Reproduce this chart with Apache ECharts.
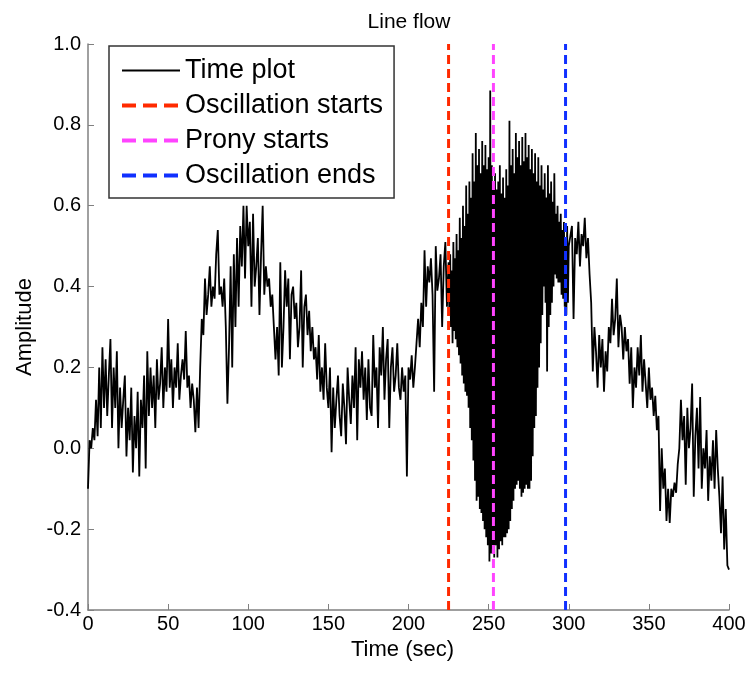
<!DOCTYPE html>
<html>
<head>
<meta charset="utf-8">
<script src="https://cdn.jsdelivr.net/npm/echarts@6/dist/echarts.min.js"></script>
<style>
  html, body { margin: 0; padding: 0; background: #fff; }
  #chart { width: 752px; height: 677px; }
</style>
</head>
<body>
<div id="chart"></div>
<script>
// Pre-oscillation samples, 1 s apart, t = 0 .. 224 s
const headStart = 0, headStep = 1;
const headAmplitude = [
  -0.10, 0.02, 0.00, 0.05, 0.02, 0.12, 0.03, 0.20, 0.05, 0.25,
  0.10, 0.22, 0.08, 0.18, 0.27, 0.05, 0.20, 0.10, 0.24, 0.00,
  0.15, 0.05, 0.12, 0.18, -0.02, 0.10, 0.02, 0.15, -0.06, 0.08,
  0.00, 0.14, -0.07, 0.12, 0.05, 0.18, -0.05, 0.24, 0.08, 0.20,
  0.10, 0.18, 0.05, 0.22, 0.12, 0.16, 0.25, 0.10, 0.20, 0.14,
  0.32, 0.15, 0.22, 0.10, 0.20, 0.15, 0.26, 0.12, 0.18, 0.22,
  0.17, 0.29, 0.15, 0.18, 0.10, 0.16, 0.12, 0.04, 0.15, 0.05,
  0.20, 0.32, 0.28, 0.42, 0.33, 0.38, 0.45, 0.35, 0.40, 0.37,
  0.48, 0.54, 0.38, 0.40, 0.35, 0.42, 0.30, 0.11, 0.25, 0.45,
  0.20, 0.48, 0.30, 0.52, 0.35, 0.55, 0.45, 0.60, 0.42, 0.60,
  0.50, 0.56, 0.35, 0.58, 0.40, 0.45, 0.52, 0.33, 0.48, 0.60,
  0.38, 0.45, 0.40, 0.42, 0.35, 0.38, 0.30, 0.22, 0.30, 0.18,
  0.46, 0.20, 0.30, 0.44, 0.35, 0.42, 0.22, 0.38, 0.40, 0.32,
  0.36, 0.25, 0.30, 0.44, 0.20, 0.35, 0.38, 0.28, 0.34, 0.24,
  0.30, 0.22, 0.25, 0.17, 0.28, 0.14, 0.20, 0.12, 0.26, 0.15,
  0.10, 0.20, -0.01, 0.15, 0.05, 0.12, 0.18, 0.08, 0.03, 0.16,
  0.10, 0.01, 0.20, 0.12, 0.06, 0.18, 0.10, 0.25, 0.02, 0.22,
  0.15, 0.24, 0.12, 0.20, 0.07, 0.22, 0.10, 0.08, 0.28, 0.15,
  0.20, 0.05, 0.25, 0.18, 0.30, 0.12, 0.22, 0.27, 0.05, 0.20,
  0.25, 0.14, 0.18, 0.26, 0.15, 0.12, 0.20, 0.14, 0.18, -0.07,
  0.20, 0.17, 0.23, 0.15, 0.20, 0.26, 0.32, 0.25, 0.36, 0.30,
  0.49, 0.35, 0.45, 0.41, 0.47, 0.38, 0.14, 0.50, 0.39, 0.42,
  0.48, 0.30, 0.45, 0.51, 0.35
];

// Oscillation samples, 0.5 s apart, t = 225 .. 300 s
const oscStart = 225, oscStep = 0.5;
const oscAmplitude = [
  0.46, 0.33, 0.48, 0.30, 0.44, 0.26, 0.51, 0.29, 0.47, 0.27,
  0.53, 0.25, 0.49, 0.23, 0.57, 0.21, 0.52, 0.18, 0.60, 0.16,
  0.55, 0.14, 0.65, 0.13, 0.58, 0.10, 0.66, 0.05, 0.62, 0.02,
  0.73, -0.03, 0.66, -0.08, 0.78, -0.13, 0.70, -0.12, 0.74, -0.15,
  0.68, -0.16, 0.76, -0.18, 0.70, -0.20, 0.75, -0.22, 0.69, -0.24,
  0.72, -0.28, 0.885, -0.26, 0.70, -0.25, 0.66, -0.27, 0.68, -0.24,
  0.64, -0.27, 0.66, -0.25, 0.70, -0.23, 0.63, -0.24, 0.67, -0.22,
  0.62, -0.22, 0.69, -0.21, 0.65, -0.20, 0.81, -0.18, 0.70, -0.15,
  0.74, -0.13, 0.68, -0.10, 0.78, -0.09, 0.72, -0.08, 0.76, -0.10,
  0.70, -0.12, 0.77, -0.11, 0.71, -0.10, 0.78, -0.09, 0.72, -0.10,
  0.75, -0.10, 0.69, -0.08, 0.74, -0.02, 0.68, 0.05, 0.73, 0.08,
  0.66, 0.15, 0.72, 0.20, 0.65, 0.26, 0.70, 0.33, 0.64, 0.40,
  0.68, 0.36, 0.62, 0.19, 0.70, 0.30, 0.63, 0.33, 0.66, 0.36,
  0.61, 0.40, 0.68, 0.43, 0.58, 0.42, 0.60, 0.41, 0.56, 0.41,
  0.58, 0.38, 0.54, 0.37, 0.56, 0.35, 0.52, 0.33, 0.55, 0.36,
  0.50
];

// Post-oscillation samples, 1 s apart, t = 301 .. 400 s
const tailStart = 301, tailStep = 1;
const tailAmplitude = [
  0.50, 0.55, 0.32, 0.52, 0.48, 0.56, 0.45, 0.53, 0.50,
  0.57, 0.47, 0.52, 0.43, 0.36, 0.19, 0.30, 0.24, 0.15, 0.28,
  0.20, 0.27, 0.14, 0.24, 0.19, 0.30, 0.26, 0.37, 0.28, 0.32,
  0.42, 0.25, 0.33, 0.30, 0.22, 0.30, 0.24, 0.27, 0.16, 0.25,
  0.10, 0.20, 0.15, 0.25, 0.18, 0.28, 0.14, 0.22, 0.16, 0.10,
  0.20, 0.12, 0.15, 0.08, 0.13, 0.045, 0.08, -0.155, 0.00, -0.10,
  -0.05, -0.18, -0.10, -0.185, -0.10, -0.12, -0.085, -0.11, -0.04, 0.00,
  0.12, 0.02, 0.08, -0.09, 0.10, 0.00, 0.05, 0.16, -0.12, 0.03,
  0.10, -0.05, 0.127, -0.10, 0.00, -0.05, 0.045, -0.13, -0.02, -0.08,
  0.02, -0.10, 0.045, -0.05, -0.12, -0.21, -0.07, -0.25, -0.15, -0.29,
  -0.30
];

// Event markers (time, seconds)
const eventNames = ['Oscillation starts', 'Prony starts', 'Oscillation ends'];
const eventTimes = [225, 253, 298];
const eventColors = ['#ff2a00', '#ff44ff', '#1030ff'];

// Axis settings
const xTicks = [0, 50, 100, 150, 200, 250, 300, 350, 400];
const yTicks = [-0.4, -0.2, 0.0, 0.2, 0.4, 0.6, 0.8, 1.0];

const yMin = yTicks[0], yMax = yTicks[yTicks.length - 1];
const toPairs = (arr, start, step) => arr.map((v, i) => [start + i * step, v]);
const timeData = toPairs(headAmplitude, headStart, headStep)
  .concat(toPairs(oscAmplitude, oscStart, oscStep))
  .concat(toPairs(tailAmplitude, tailStart, tailStep));

const FONT = 'Liberation Sans, Arial, sans-serif';

const series = [{
  name: 'Time plot',
  type: 'line',
  data: timeData,
  symbol: 'none',
  lineStyle: { color: '#000', width: 1.8 },
  itemStyle: { color: '#000' },
  z: 2,
  animation: false
}];
eventTimes.forEach((t, k) => {
  series.push({
    name: eventNames[k],
    type: 'line',
    data: [[t, yMin], [t, yMax]],
    symbol: 'none',
    lineStyle: { color: eventColors[k], width: 3, type: [9, 5] },
    itemStyle: { color: eventColors[k] },
    z: 5,
    animation: false
  });
});

const legendData = [{ name: 'Time plot', itemStyle: { opacity: 0 }, lineStyle: { width: 2 } }]
  .concat(eventNames.map(n => ({ name: n, itemStyle: { opacity: 0 }, lineStyle: { width: 4, type: [14, 7] } })));

const chart = echarts.init(document.getElementById('chart'), null, { renderer: 'canvas' });
chart.setOption({
  animation: false,
  backgroundColor: '#fff',
  title: {
    text: 'Line flow',
    left: 404, top: 7,
    textAlign: 'center',
    textStyle: { fontFamily: FONT, fontSize: 21, fontWeight: 'normal', color: '#000' }
  },
  legend: {
    orient: 'vertical',
    left: 109, top: 46,
    padding: [11, 11, 9, 11],
    itemWidth: 58, itemHeight: 22, itemGap: 8,
    borderColor: '#333', borderWidth: 1.5,
    backgroundColor: '#fff',
    itemStyle: { opacity: 0 },
    textStyle: { fontFamily: FONT, fontSize: 27, color: '#000', lineHeight: 22 },
    data: legendData
  },
  grid: { left: 88, right: 23, top: 44, bottom: 67, containLabel: false },
  xAxis: {
    type: 'value',
    min: xTicks[0], max: xTicks[xTicks.length - 1], interval: xTicks[1] - xTicks[0],
    name: 'Time (sec)', nameLocation: 'middle', nameGap: 20,
    nameTextStyle: { fontFamily: FONT, fontSize: 22, color: '#000', padding: [0, 12, 0, 0] },
    axisLine: { show: true, onZero: false, lineStyle: { color: '#808080', width: 1.5 } },
    axisTick: { show: true, inside: true, length: 6, lineStyle: { color: '#808080' } },
    axisLabel: { fontFamily: FONT, fontSize: 20, color: '#000', margin: 4 },
    splitLine: { show: false }
  },
  yAxis: {
    type: 'value',
    min: yMin, max: yMax, interval: 0.2,
    name: 'Amplitude', nameLocation: 'middle', nameGap: 52,
    nameTextStyle: { fontFamily: FONT, fontSize: 22, color: '#000' },
    axisLine: { show: true, onZero: false, lineStyle: { color: '#808080', width: 1.5 } },
    axisTick: { show: true, inside: true, length: 6, lineStyle: { color: '#808080' } },
    axisLabel: {
      fontFamily: FONT, fontSize: 20, color: '#000', margin: 7,
      formatter: v => (Math.abs(v) < 1e-9 ? 0 : v).toFixed(1)
    },
    splitLine: { show: false }
  },
  series: series
});
</script>
</body>
</html>
